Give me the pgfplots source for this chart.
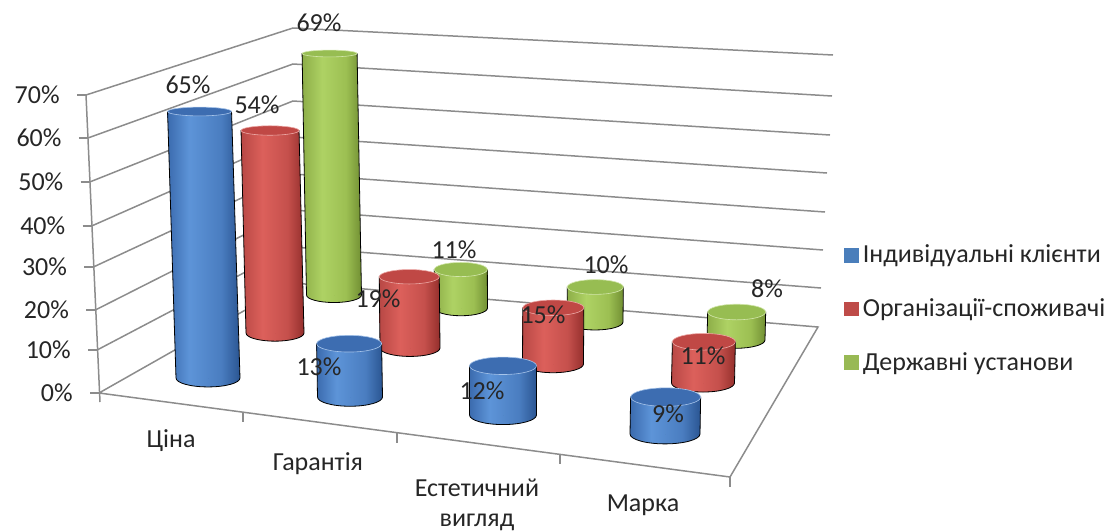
\documentclass[border=0pt]{standalone}
\usepackage{pgfplots}
\usepackage{pgfplotstable}
\pgfplotsset{compat=1.18}
\usepackage{fontspec}
\setmainfont{Carlito}

% cylinder shades: left edge, highlight, body, right edge, top face, legend key
\definecolor{bluA}{HTML}{3B6BAE}
\definecolor{bluB}{HTML}{5D94D8}
\definecolor{bluM}{HTML}{4A7DC0}
\definecolor{bluC}{HTML}{2A5592}
\definecolor{bluT}{HTML}{3D6DB1}
\definecolor{bluK}{HTML}{4A7EBB}
\definecolor{redA}{HTML}{B84845}
\definecolor{redB}{HTML}{DC605B}
\definecolor{redM}{HTML}{C5504C}
\definecolor{redC}{HTML}{942F2C}
\definecolor{redT}{HTML}{C04845}
\definecolor{redK}{HTML}{BE4B48}
\definecolor{grnA}{HTML}{8DAE48}
\definecolor{grnB}{HTML}{AED264}
\definecolor{grnM}{HTML}{9CBF52}
\definecolor{grnC}{HTML}{718F33}
\definecolor{grnT}{HTML}{97BD52}
\definecolor{grnK}{HTML}{98B954}
\definecolor{gridc}{HTML}{8C8C8C}
\definecolor{txt}{HTML}{262626}

% round-body shadings (the path spans 25bp to 75bp)
\pgfdeclarehorizontalshading{cylblu}{100bp}{color(0bp)=(bluA); color(25bp)=(bluA);
  color(40bp)=(bluB); color(62bp)=(bluM); color(75bp)=(bluC); color(100bp)=(bluC)}
\pgfdeclarehorizontalshading{cylred}{100bp}{color(0bp)=(redA); color(25bp)=(redA);
  color(42bp)=(redB); color(62bp)=(redM); color(75bp)=(redC); color(100bp)=(redC)}
\pgfdeclarehorizontalshading{cylgrn}{100bp}{color(0bp)=(grnA); color(25bp)=(grnA);
  color(42bp)=(grnB); color(62bp)=(grnM); color(75bp)=(grnC); color(100bp)=(grnC)}

\newcommand\lbl{\fontsize{13}{15}\selectfont}

% cx, cy: centre of the cylinder's base; w: its width; v: value in %;
% lx, ly: centre of the value label
\pgfplotstableread{
cat cx  cy  w  v  lx  ly
1   208 378 64 65 188 85
2   350 397 65 13 319 367
3   503 415 67 12 482 391
4   665 434 70  9 668 414
}\indiv
\pgfplotstableread{
cat cx  cy  w  v  lx  ly
1   275 333 58 54 257 105
2   410 348 60 19 378 299
3   553 364 61 15 543 315
4   703 383 63 11 703 356
}\orgs
\pgfplotstableread{
cat cx  cy  w  v  lx  ly
1   334 295 55 69 319 23
2   461 308 53 11 454 250
3   595 322 56 10 606 265
4   736 340 58  8 767 289
}\gov

% wall levels: front-left corner (xf,yf), back-left corner y (yb), back-right end (xr,yr)
\pgfplotstableread{
p  xf    yf  yb  xr  yr
0  99    393 283 818 327
10 97.1  350 247 821 288
20 95.3  310 210 823 250
30 93.4  267 174 825 212
40 91.6  226 137 827 173
50 89.7  182 101 830 135
60 87.9  138 64  832 96
70 86    95  28  833 55
}\walls

% #1 body shading, #2 rim colour, #3 top face, #4 drawing units per percent
\newcommand\cylinder[4]{%
  \pgfmathsetmacro\hh{0.5*#4*\val}%
  \pgfmathsetmacro\rx{0.25*\wid}%
  \pgfmathsetmacro\ryb{0.5*(2.5+0.017*\ypos)}%
  \pgfmathsetmacro\ryt{0.5*(2.5+0.017*(\ypos-#4*\val))}%
  \pgfmathsetmacro\sk{(\xpos-505)*0.0001*\hh}%
  \pgfmathsetmacro\xl{\sk-\rx}%
  \pgfmathsetmacro\xr{\sk+\rx}%
  \pgfmathsetmacro\mrx{-\rx}%
  \shade[shading=#1]
    (\mrx pt,0pt) -- (\xl pt,\hh pt) -- (\xr pt,\hh pt) -- (\rx pt,0pt)
    arc[start angle=0, end angle=-180, x radius=\rx pt, y radius=\ryb pt] -- cycle;
  \fill[#3, draw=#2!55!white, line width=0.3pt]
    (\sk pt,\hh pt) ellipse[x radius=\rx pt, y radius=\ryt pt];
}

\pgfplotsset{
  cyl/.style={
    scatter, only marks, mark=*, mark size=0pt,
    mark options={draw=none, fill=none},
    visualization depends on={\thisrow{v} \as \val},
    visualization depends on={\thisrow{w} \as \wid},
    visualization depends on={\thisrow{cx} \as \xpos},
    visualization depends on={\thisrow{cy} \as \ypos},
    scatter/@post marker code/.code={},
  },
  key/.style={legend image code/.code={\fill[#1] (0pt,-3.4pt) rectangle (6.8pt,3.4pt);}},
  vals/.style={
    forget plot, draw=none, mark=none, point meta=explicit,
    nodes near coords={\pgfmathprintnumber{\pgfplotspointmeta}\%},
    every node near coord/.append style={anchor=center, font=\lbl, text=txt, inner sep=0pt},
  },
  wall/.style={forget plot, gridc, line width=0.75pt, mark=none},
}

\begin{document}
\begin{tikzpicture}
\begin{axis}[
  scale only axis, width=560pt, height=265.5pt,
  xmin=0, xmax=1120, ymin=0, ymax=531, y dir=reverse,
  hide axis, clip=false,
  /pgf/number format/assume math mode=true,
  reverse legend,
  legend cell align=left,
  legend style={at={(axis cs:838,309)}, anchor=west, draw=none, fill=none,
    font=\lbl, text=txt, row sep=12.4pt},
]
\addplot[forget plot, draw=none, mark=none] coordinates {(0,0) (1120,531)};

% walls and floor
\addplot[wall] table[x=xf, y=yf] {
xf yf
99 393
293 283
818 327
730 477
99 393
};
\addplot[wall] coordinates {(97.1,350) (293,247) (821,288)};
\addplot[wall] coordinates {(95.3,310) (293,210) (823,250)};
\addplot[wall] coordinates {(93.4,267) (293,174) (825,212)};
\addplot[wall] coordinates {(91.6,226) (293,137) (827,173)};
\addplot[wall] coordinates {(89.7,182) (293,101) (830,135)};
\addplot[wall] coordinates {(87.9,138) (293,64) (832,96)};
\addplot[wall] coordinates {(86,95) (293,28) (833,55)};
% value axis with ticks
\addplot[wall] coordinates {(100,402) (86,95)};
\addplot[wall] coordinates {(90,393) (99,393)};
\addplot[wall] coordinates {(88.1,350) (97.1,350)};
\addplot[wall] coordinates {(86.3,310) (95.3,310)};
\addplot[wall] coordinates {(84.4,267) (93.4,267)};
\addplot[wall] coordinates {(82.6,226) (91.6,226)};
\addplot[wall] coordinates {(80.7,182) (89.7,182)};
\addplot[wall] coordinates {(78.9,138) (87.9,138)};
\addplot[wall] coordinates {(77,95) (86,95)};
% category separators
\addplot[wall] coordinates {(243,412) (243,422)};
\addplot[wall] coordinates {(397,433) (397,443)};
\addplot[wall] coordinates {(560,454) (560,464)};
\addplot[wall] coordinates {(730,477) (730,487)};

% cylinders, back row first
\addplot[cyl, key=grnK,
  scatter/@pre marker code/.code={\cylinder{cylgrn}{grnB}{grnT}{3.5}}]
  table[x=cx, y=cy] \gov;
\addlegendentry{Державні установи}
\addplot[cyl, key=redK,
  scatter/@pre marker code/.code={\cylinder{cylred}{redB}{redT}{3.75}}]
  table[x=cx, y=cy] \orgs;
\addlegendentry{Організації-споживачі}
\addplot[cyl, key=bluK,
  scatter/@pre marker code/.code={\cylinder{cylblu}{bluB}{bluT}{4.1}}]
  table[x=cx, y=cy] \indiv;
\addlegendentry{Індивідуальні клієнти}

% value labels
\addplot[vals] table[x=lx, y=ly, meta=v] \gov;
\addplot[vals] table[x=lx, y=ly, meta=v] \orgs;
\addplot[vals] table[x=lx, y=ly, meta=v] \indiv;

% percent scale
\addplot[vals, every node near coord/.append style={anchor=east}]
  table[x expr=\thisrow{xf}-26, y=yf, meta=p] \walls;

% category names
\addplot[forget plot, draw=none, mark=none, point meta=explicit symbolic,
  nodes near coords,
  every node near coord/.append style={anchor=center, align=center, font=\lbl, text=txt, inner sep=0pt}]
  coordinates {(171,441) [Ціна] (318,464) [Гарантія] (477,505) [Естетичний\\вигляд] (643,505) [Марка]};
\end{axis}
\end{tikzpicture}
\end{document}
